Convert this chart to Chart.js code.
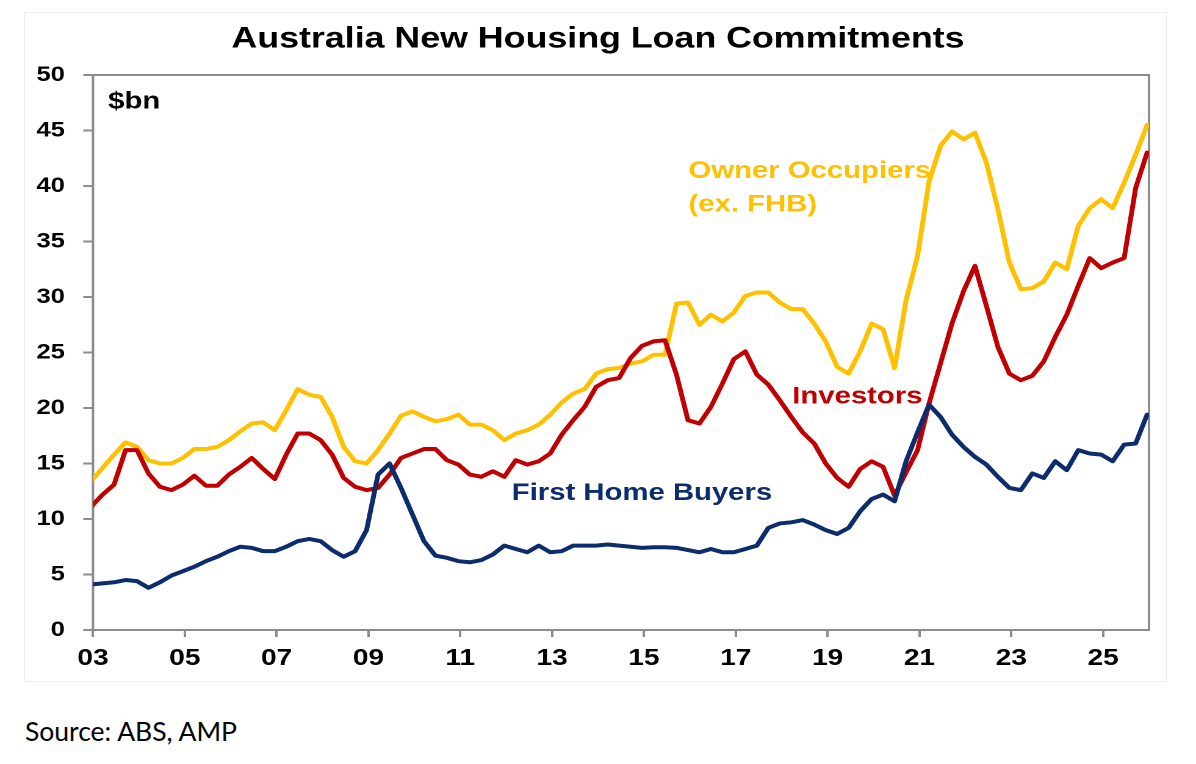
<!DOCTYPE html>
<html>
<head>
<meta charset="utf-8">
<title>Australia New Housing Loan Commitments</title>
<script src="https://cdn.jsdelivr.net/npm/chart.js@4.4.1/dist/chart.umd.min.js"></script>
<style>
  html, body { margin: 0; padding: 0; background: #fff; }
  body { width: 1196px; height: 764px; position: relative; overflow: hidden; }
  #frame { position: absolute; left: 24px; top: 12px; width: 1141px; height: 668px; border: 1px solid #efefef; }
  /* the original picture is stretched sideways, so the chart is drawn narrow and scaled */
  #wrap { position: absolute; left: 0; top: 0; width: 980px; height: 690px; transform: scaleX(1.2204); transform-origin: 0 0; }
  #source { position: absolute; left: 25px; top: 717px; font-family: Lato, sans-serif; font-size: 26.5px; line-height: 28px; color: #000; }
</style>
</head>
<body>
<div id="frame"></div>
<div id="wrap"><canvas id="chart"></canvas></div>
<div id="source">Source: ABS, AMP</div>
<script>
// quarterly, Dec-02 .. Dec-25
const quarters = ['Dec-02'];
for (let y = 3; y <= 25; y++) {
  ['Mar', 'Jun', 'Sep', 'Dec'].forEach(m => quarters.push(m + '-' + String(y).padStart(2, '0')));
}

const ownerOccupiers = [
  13.4, 14.6, 15.8, 16.9, 16.5, 15.3, 15.0, 15.0, 15.5, 16.3, 16.3, 16.5, 17.1, 17.9, 18.6, 18.7,
  18.0, 19.8, 21.7, 21.2, 21.0, 19.2, 16.5, 15.2, 15.0, 16.2, 17.7, 19.3, 19.7, 19.2, 18.8, 19.0,
  19.4, 18.5, 18.5, 18.0, 17.1, 17.7, 18.0, 18.5, 19.4, 20.5, 21.3, 21.7, 23.1, 23.5, 23.6, 24.0,
  24.2, 24.8, 24.8, 29.4, 29.5, 27.5, 28.4, 27.8, 28.6, 30.1, 30.4, 30.4, 29.5, 28.9, 28.9, 27.6,
  26.0, 23.7, 23.1, 25.1, 27.6, 27.1, 23.6, 29.7, 33.7, 40.4, 43.6, 44.9, 44.2, 44.8, 42.1, 37.9,
  33.1, 30.7, 30.8, 31.4, 33.1, 32.5, 36.4, 38.0, 38.8, 38.0, 40.3, 42.8, 45.5
];
const investors = [
  11.1, 12.2, 13.1, 16.2, 16.2, 14.1, 12.9, 12.6, 13.1, 13.9, 13.0, 13.0, 14.0, 14.7, 15.5, 14.5,
  13.6, 15.8, 17.7, 17.7, 17.1, 15.8, 13.7, 12.9, 12.6, 12.8, 14.0, 15.5, 15.9, 16.3, 16.3, 15.3,
  14.9, 14.0, 13.8, 14.3, 13.8, 15.3, 14.9, 15.2, 15.9, 17.6, 18.9, 20.1, 21.9, 22.5, 22.7, 24.5,
  25.6, 26.0, 26.1, 23.0, 18.9, 18.6, 20.1, 22.2, 24.4, 25.1, 23.0, 22.1, 20.7, 19.2, 17.8, 16.8,
  15.0, 13.7, 12.9, 14.5, 15.2, 14.7, 12.1, 14.2, 16.2, 20.4, 24.0, 27.6, 30.5, 32.8, 29.2, 25.5,
  23.1, 22.5, 22.9, 24.2, 26.4, 28.4, 31.0, 33.5, 32.6, 33.1, 33.5, 39.8, 43.0
];
const firstHomeBuyers = [
  4.1, 4.2, 4.3, 4.5, 4.4, 3.8, 4.3, 4.9, 5.3, 5.7, 6.2, 6.6, 7.1, 7.5, 7.4, 7.1,
  7.1, 7.5, 8.0, 8.2, 8.0, 7.2, 6.6, 7.1, 9.0, 14.0, 15.0, 12.8, 10.4, 8.0, 6.7, 6.5,
  6.2, 6.1, 6.3, 6.8, 7.6, 7.3, 7.0, 7.6, 7.0, 7.1, 7.6, 7.6, 7.6, 7.7, 7.6, 7.5,
  7.4, 7.45, 7.45, 7.4, 7.2, 7.0, 7.3, 7.0, 7.0, 7.3, 7.6, 9.2, 9.6, 9.7, 9.9, 9.5,
  9.0, 8.65, 9.2, 10.7, 11.8, 12.2, 11.6, 15.2, 17.8, 20.3, 19.2, 17.6, 16.5, 15.6, 14.9, 13.8,
  12.8, 12.6, 14.1, 13.7, 15.2, 14.4, 16.2, 15.9, 15.8, 15.2, 16.7, 16.8, 19.4
];

const xTickYears = [2003, 2005, 2007, 2009, 2011, 2013, 2015, 2017, 2019, 2021, 2023, 2025];

const fontFamily = '"Liberation Sans", Arial, sans-serif';
const months = ['Jan', 'Feb', 'Mar', 'Apr', 'May', 'Jun', 'Jul', 'Aug', 'Sep', 'Oct', 'Nov', 'Dec'];

// 'Mar-03' -> 2003.21 (middle of the month)
function quarterToYear(q) {
  const [m, yy] = q.split('-');
  return 2000 + parseInt(yy, 10) + (months.indexOf(m) + 0.5) / 12;
}

function toPoints(values) {
  return values.map((v, i) => ({ x: quarterToYear(quarters[i]), y: v }));
}

// series names written inside the plot, anchored in data units
const seriesLabels = [
  { text: '$bn', x: 2003.33, y: 47.0, color: '#000000' },
  { text: 'Owner Occupiers', x: 2015.97, y: 40.7, color: '#FFC000' },
  { text: '(ex. FHB)', x: 2015.97, y: 37.7, color: '#FFC000' },
  { text: 'Investors', x: 2018.23, y: 20.4, color: '#C00000' },
  { text: 'First Home Buyers', x: 2012.12, y: 11.7, color: '#0C2C6C' }
];

const framePlugin = {
  id: 'frame',
  beforeDatasetsDraw(chart) {
    const { ctx, chartArea: a } = chart;
    ctx.save();
    ctx.strokeStyle = '#8c8c8c';
    ctx.lineWidth = 2;
    ctx.strokeRect(a.left, a.top, a.right - a.left, a.bottom - a.top);
    ctx.restore();
  }
};

const labelPlugin = {
  id: 'seriesLabels',
  afterDatasetsDraw(chart) {
    const { ctx, scales } = chart;
    ctx.save();
    ctx.font = 'bold 24px ' + fontFamily;
    ctx.textAlign = 'left';
    ctx.textBaseline = 'alphabetic';
    seriesLabels.forEach(l => {
      ctx.fillStyle = l.color;
      ctx.fillText(l.text, scales.x.getPixelForValue(l.x), scales.y.getPixelForValue(l.y));
    });
    ctx.restore();
  }
};

new Chart(document.getElementById('chart'), {
  type: 'line',
  data: {
    datasets: [
      { label: 'First Home Buyers', data: toPoints(firstHomeBuyers), borderColor: '#0C2C6C' },
      { label: 'Investors', data: toPoints(investors), borderColor: '#C00000' },
      { label: 'Owner Occupiers (ex. FHB)', data: toPoints(ownerOccupiers), borderColor: '#FFC000' }
    ]
  },
  options: {
    responsive: true,
    maintainAspectRatio: false,
    animation: false,
    devicePixelRatio: 2,
    layout: { padding: 0 },
    elements: {
      point: { radius: 0 },
      line: { borderWidth: 4, tension: 0, borderJoinStyle: 'round', borderCapStyle: 'round', fill: false }
    },
    plugins: {
      legend: { display: false },
      tooltip: { enabled: false },
      title: {
        display: true,
        text: 'Australia New Housing Loan Commitments',
        color: '#000',
        font: { family: fontFamily, size: 29.3, weight: 'bold' },
        padding: { top: 22, bottom: 17.8 }
      }
    },
    scales: {
      x: {
        type: 'linear',
        min: 2003,
        max: 2026,
        afterBuildTicks: s => { s.ticks = xTickYears.map(v => ({ value: v })); },
        afterFit: s => { s.height = 60; },
        grid: { drawOnChartArea: false, color: '#8c8c8c', lineWidth: 2, tickLength: 7 },
        border: { display: false },
        ticks: {
          callback: v => String(v).slice(2),
          color: '#000',
          font: { family: fontFamily, size: 23, weight: 'bold' },
          padding: 8,
          maxRotation: 0,
          autoSkip: false
        }
      },
      y: {
        min: 0,
        max: 50,
        afterFit: s => { s.width = 76.2; },
        grid: { drawOnChartArea: false, color: '#8c8c8c', lineWidth: 2, tickLength: 8 },
        border: { display: false },
        ticks: {
          stepSize: 5,
          color: '#000',
          font: { family: fontFamily, size: 21, weight: 'bold' },
          padding: 15
        }
      },
      // empty right-hand box: keeps the plot off the right edge while the title stays centred
      spacer: {
        position: 'right',
        min: 0,
        max: 50,
        afterFit: s => { s.width = 38.5; },
        grid: { display: false },
        border: { display: false },
        ticks: { display: false }
      }
    }
  },
  plugins: [framePlugin, labelPlugin]
});
</script>
</body>
</html>
